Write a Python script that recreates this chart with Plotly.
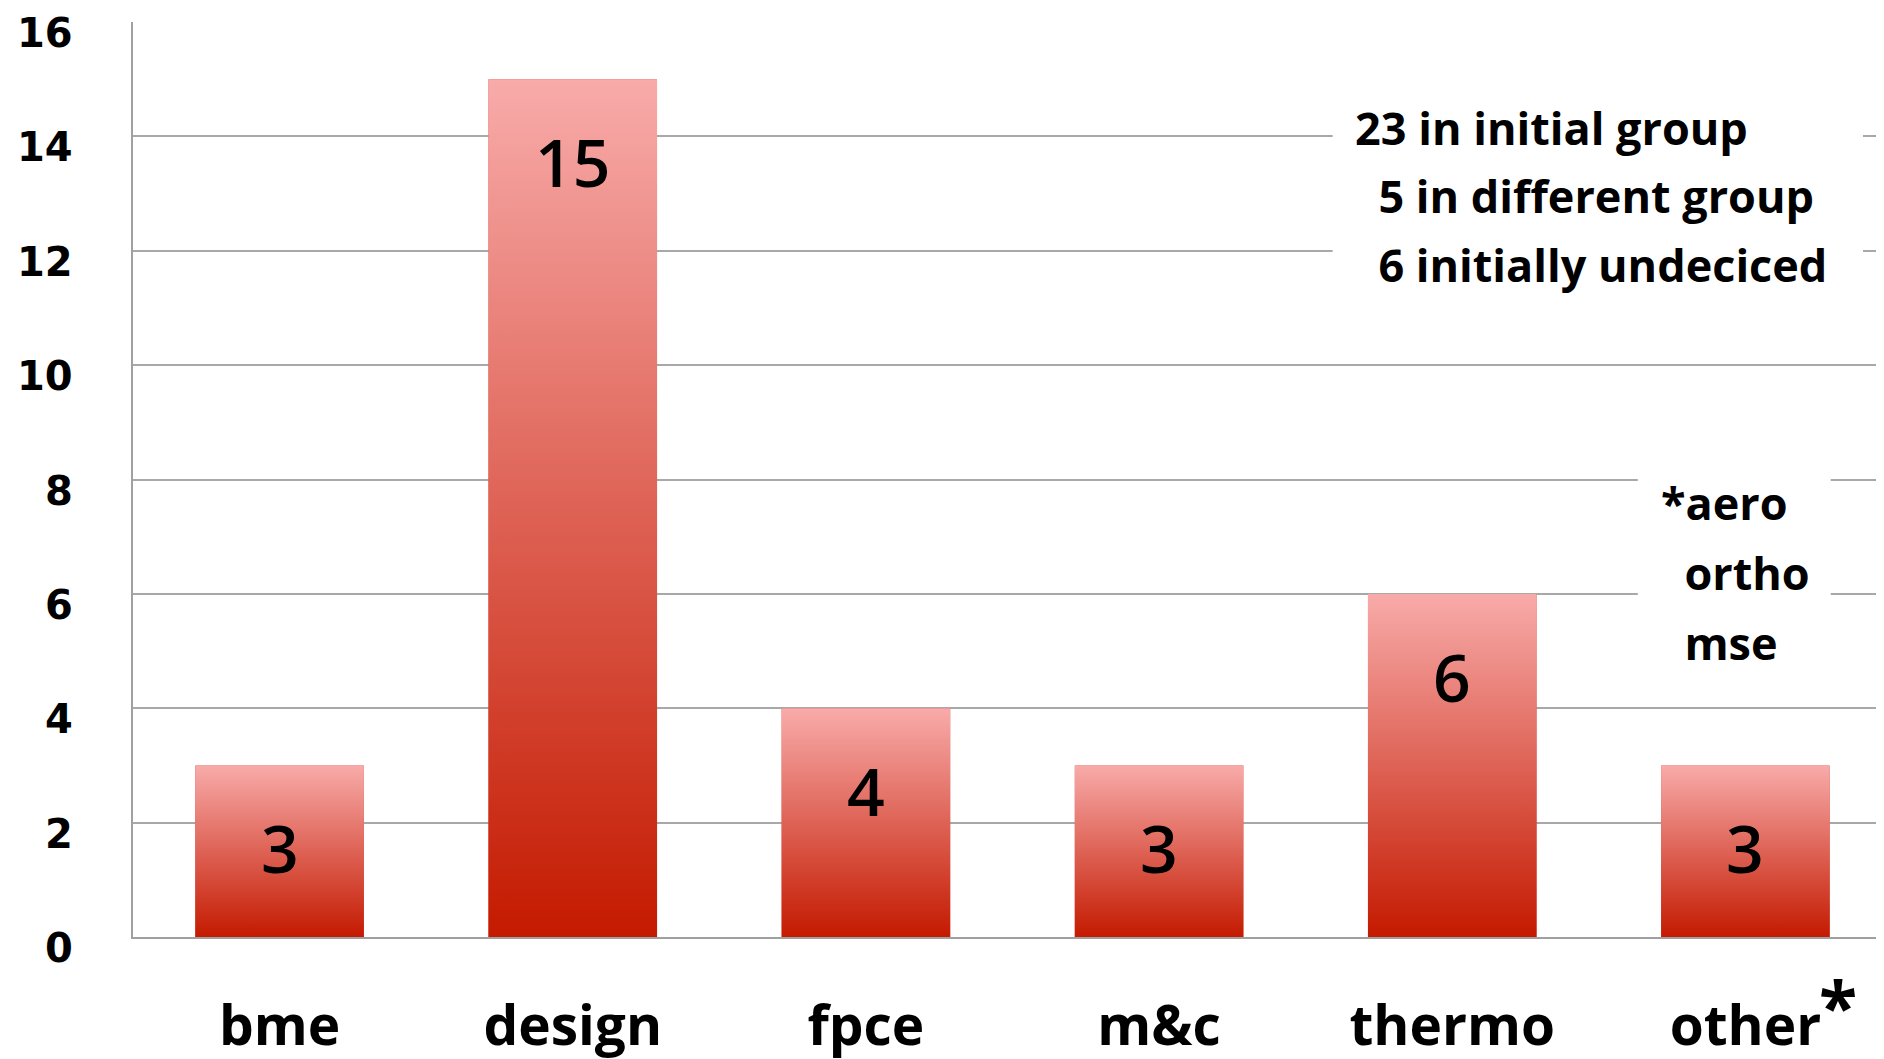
import plotly.graph_objects as go

categories = ["bme", "design", "fpce", "m&c", "thermo", "other"]
counts = [3, 15, 4, 3, 6, 3]
y_ticks = [0, 2, 4, 6, 8, 10, 12, 14, 16]
note_lines = ["23 in initial group", "\u00a0\u00a05 in different group", "\u00a0\u00a06 initially undeciced"]
note_levels = [14.16, 12.96, 11.76]
other_lines = ["*aero", "\u00a0\u00a0ortho", "\u00a0\u00a0mse"]
other_levels = [7.6, 6.37, 5.15]
footnote_mark = "*"

BAR_W = 0.575
TOP_COLOR = "#f8abaa"
BOTTOM_COLOR = "#c41a00"

fig = go.Figure()
xs = list(range(len(categories)))

fig.add_trace(go.Bar(x=xs, y=counts, width=BAR_W, marker=dict(color="#dc4a42", line=dict(width=0)),
                     hoverinfo="skip", showlegend=False))

for i, v in zip(xs, counts):
    x0, x1 = i - BAR_W / 2, i + BAR_W / 2
    fig.add_trace(go.Scatter(
        x=[x0, x1, x1, x0, x0], y=[0, 0, v, v, 0], mode="lines", fill="toself",
        line=dict(width=0), fillcolor="#dc4a42",
        fillgradient=dict(type="vertical", colorscale=[[0, BOTTOM_COLOR], [1, TOP_COLOR]]),
        hoverinfo="skip", showlegend=False))
    fig.add_annotation(x=i, y=v, text=str(v), showarrow=False, yanchor="middle", yshift=-82,
                       font=dict(family="Open Sans", size=66, color="black", weight=600))

# white boxes behind notes (hide gridlines)
fig.add_shape(type="rect", x0=3.592, x1=5.401, y0=11.0, y1=15.0, fillcolor="white",
              line=dict(width=0), layer="above")
fig.add_shape(type="rect", x0=4.633, x1=5.291, y0=5.0, y1=9.0, fillcolor="white",
              line=dict(width=0), layer="above")

for t, lv in zip(note_lines, note_levels):
    fig.add_annotation(x=3.661, y=lv, text=t, showarrow=False, xanchor="left", yanchor="middle",
                       font=dict(family="Open Sans", size=45, color="black", weight="bold"))
for t, lv in zip(other_lines, other_levels):
    fig.add_annotation(x=4.705, y=lv, text=t, showarrow=False, xanchor="left", yanchor="middle",
                       font=dict(family="Open Sans", size=45, color="black", weight="bold"))

# footnote asterisk next to the last category label
fig.add_annotation(xref="x", yref="paper", x=xs[-1], y=0, text=footnote_mark, showarrow=False,
                   xanchor="center", yanchor="middle", xshift=93, yshift=-68,
                   font=dict(family="Open Sans", size=70, color="black", weight="bold"))

# y tick labels (sit slightly below their gridlines, as in the original)
for t in y_ticks:
    fig.add_annotation(xref="paper", yref="y", x=0, y=t, text=str(t), showarrow=False,
                       xanchor="right", yanchor="middle", xshift=-58, yshift=-11,
                       font=dict(family="DejaVu Sans", size=40, color="black", weight="bold"))

fig.update_layout(
    width=1884, height=1059,
    margin=dict(l=125, r=0, t=14, b=130),
    plot_bgcolor="white", paper_bgcolor="white",
    bargap=0.425,
    xaxis=dict(range=[-0.5, 5.5], tickvals=xs, ticktext=categories, showgrid=False,
               zeroline=False, showline=True, linecolor="#a0a0a0", linewidth=2, ticks="",
               ticklabelstandoff=40, automargin=False,
               tickfont=dict(family="Open Sans", size=55, color="black", weight="bold")),
    yaxis=dict(range=[0, 16], tickvals=y_ticks, showgrid=True, gridcolor="#a8a8a8", gridwidth=1.5,
               zeroline=False, showline=True, linecolor="#a0a0a0", linewidth=2, ticks="",
               showticklabels=False, automargin=False),
)

fig.write_html("out.html")
